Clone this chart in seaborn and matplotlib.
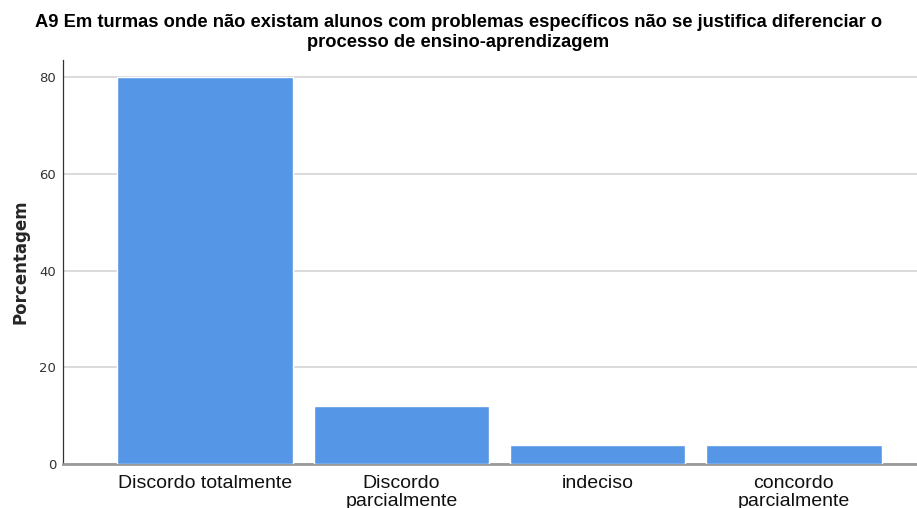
import matplotlib
matplotlib.use('Agg')
import matplotlib.pyplot as plt
import seaborn as sns
import pandas as pd

# dados
categorias = ['Discordo totalmente', 'Discordo\nparcialmente', 'indeciso', 'concordo\nparcialmente']
porcentagem = [80, 12, 4, 4]
titulo = ('A9 Em turmas onde não existam alunos com problemas específicos não se justifica diferenciar o\n'
          'processo de ensino-aprendizagem')

sns.set_style('white')
plt.rcParams['font.family'] = ['Liberation Sans', 'DejaVu Sans']

df = pd.DataFrame({'cat': categorias, 'pct': porcentagem})

fig = plt.figure(figsize=(9.17, 5.08), dpi=100)
ax = fig.add_axes([0.0687, 0.0866, 0.935, 0.795])

sns.barplot(data=df, x='cat', y='pct', color='#5596e6', saturation=1, width=0.895, ax=ax, zorder=3)

ax.set_xlim(-0.724, 3.645)
ax.set_ylim(0, 83.5)
ax.set_yticks([0, 20, 40, 60, 80])
ax.yaxis.grid(True, color='#d4d4d4', linewidth=1.2, zorder=0)
ax.set_axisbelow(True)

for s in ['top', 'right']:
    ax.spines[s].set_visible(False)
ax.spines['left'].set_color('#333333')
ax.spines['left'].set_linewidth(0.9)
ax.spines['bottom'].set_color('#999999')
ax.spines['bottom'].set_linewidth(2)

ax.tick_params(axis='x', length=0, labelsize=14, pad=8, colors='#111111')
ax.tick_params(axis='y', length=0, labelsize=9.5, pad=5, colors='#333333')
for t in ax.get_yticklabels():
    t.set_family(['DejaVu Sans'])
for t in ax.get_xticklabels():
    t.set_linespacing(1.1)

ax.set_xlabel('')
ax.set_ylabel('Porcentagem', fontsize=12, fontweight='bold', family=['DejaVu Sans'], labelpad=7)
fig.text(0.5, 0.972, titulo, ha='center', va='top', fontsize=13.2, fontweight='bold',
         linespacing=1.2, color='black')

fig.savefig('out.png', dpi=100)
